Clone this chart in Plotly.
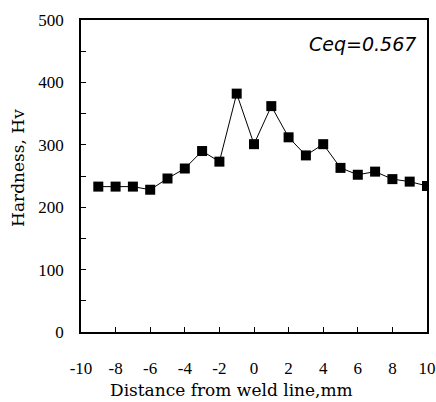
import plotly.graph_objects as go

distance = [-9, -8, -7, -6, -5, -4, -3, -2, -1, 0, 1, 2, 3, 4, 5, 6, 7, 8, 9, 10]
hardness = [233, 233, 233, 228, 246, 262, 290, 273, 382, 301, 362, 312, 283, 301, 263, 252, 257, 245, 241, 234]
x_ticks = [-10, -8, -6, -4, -2, 0, 2, 4, 6, 8, 10]
y_ticks = [0, 100, 200, 300, 400, 500]

serif = "Liberation Serif"

fig = go.Figure()
fig.add_trace(go.Scatter(
    x=distance, y=hardness, mode="lines+markers",
    line=dict(color="black", width=1),
    marker=dict(symbol="square", size=10, color="black"),
    showlegend=False,
))

fig.add_annotation(
    x=0.975, y=0.923, xref="paper", yref="paper", xanchor="right", yanchor="middle",
    text="<i>Ceq=0.567</i>", showarrow=False,
    font=dict(family="DejaVu Sans", size=19, color="black"),
)
fig.add_annotation(
    x=0.436, y=-0.186, xref="paper", yref="paper", xanchor="center", yanchor="middle",
    text="Distance from weld line,mm", showarrow=False,
    font=dict(family="DejaVu Serif", size=17, color="black"),
)
fig.add_annotation(
    x=-0.182, y=0.526, xref="paper", yref="paper", xanchor="center", yanchor="middle",
    text="Hardness, Hv", showarrow=False, textangle=-90,
    font=dict(family="DejaVu Serif", size=17, color="black"),
)

fig.update_xaxes(
    range=[-10, 10], tickvals=x_ticks, ticktext=[str(v) for v in x_ticks],
    ticks="inside", ticklen=5, tickcolor="black", tickwidth=1,
    showline=True, linecolor="black", linewidth=1.5, mirror=True,
    showgrid=False, zeroline=False, ticklabelstandoff=20, automargin=False,
    tickfont=dict(family=serif, size=17, color="black"),
)
fig.update_yaxes(
    range=[0, 500], tickvals=y_ticks, ticktext=[str(v) for v in y_ticks],
    ticks="inside", ticklen=5, tickcolor="black", tickwidth=1,
    minor=dict(dtick=50, ticks="inside", ticklen=5, tickcolor="black", showgrid=False),
    showline=True, linecolor="black", linewidth=1.5, mirror=True,
    showgrid=False, zeroline=False, ticklabelstandoff=12, automargin=False,
    tickfont=dict(family=serif, size=17, color="black"),
)

fig.update_layout(
    width=436, height=402,
    margin=dict(l=81, r=9, t=20, b=70),
    paper_bgcolor="white", plot_bgcolor="white",
)

fig.write_html("out.html", config={"displayModeBar": False},
               post_script="document.body.style.margin='0';")
